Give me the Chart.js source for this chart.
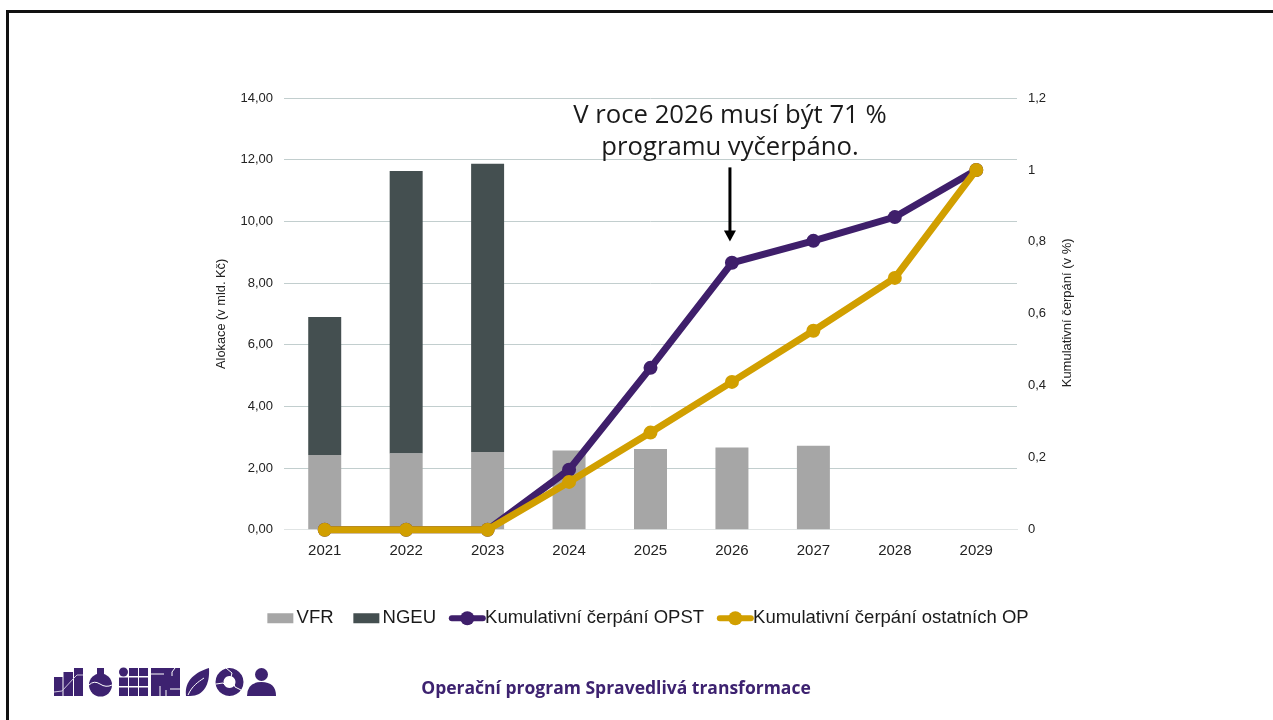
<!DOCTYPE html>
<html lang="cs">
<head>
<meta charset="utf-8">
<script src="https://cdn.jsdelivr.net/npm/chart.js@4"></script>
<style>
html,body{margin:0;padding:0;background:#fff;overflow:hidden}
#wrap{position:relative;width:1273px;height:720px;overflow:hidden}
#frame{position:absolute;left:6px;top:10px;width:1300px;height:800px;border:3px solid #111;box-sizing:border-box}
canvas{position:absolute;left:0;top:0}
#note{position:absolute;left:530px;top:98px;width:400px;text-align:center;font:25.7px/32px "Open Sans",sans-serif;color:#1a1a1a;white-space:nowrap}
#foot{position:absolute;left:366px;top:675px;width:500px;text-align:center;font:bold 17.5px/24px "Open Sans",sans-serif;color:#3d2270;white-space:nowrap}
#icons{position:absolute;left:0;top:0}
</style>
</head>
<body>
<div id="wrap">
<div id="frame"></div>
<canvas id="c" width="1273" height="720"></canvas>
<div id="note">V roce 2026 musí být 71 %<br>programu vyčerpáno.</div>
<div id="foot">Operační program Spravedlivá transformace</div>
<svg id="icons" width="1273" height="720" fill="#3d2270">
  <rect x="54" y="677" width="8.500" height="19"/><rect x="63.500" y="672" width="9.500" height="24"/><rect x="74" y="668" width="9" height="28"/>
  <polyline points="54,692 62,691 74,678 77,675 83,675" fill="none" stroke="#cfc6de" stroke-width="1"/>
  <circle cx="100.500" cy="685" r="11.500"/><rect x="97" y="668" width="7" height="11"/>
  <path d="M89,685 q5,-5 11,-1 t12,1" fill="none" stroke="#fff" stroke-width="1"/>
  <circle cx="123.500" cy="672" r="4.500"/>
  <rect x="129" y="668" width="9" height="8"/><rect x="139" y="668" width="9" height="8"/>
  <rect x="119" y="677.500" width="9" height="8.500"/><rect x="129" y="677.500" width="9" height="8.500"/><rect x="139" y="677.500" width="9" height="8.500"/>
  <rect x="119" y="687.500" width="9" height="8.500"/><rect x="129" y="687.500" width="9" height="8.500"/><rect x="139" y="687.500" width="9" height="8.500"/>
  <rect x="151" y="668" width="29" height="28"/>
  <path d="M151,674 H164 M175,668 L172,672 V676 M180,689 H170 M160,696 V686 M166,696 V690" fill="none" stroke="#fff" stroke-width="1"/>
  <path d="M186,696 C184,680 196,672 209,668 C210,684 204,696 190,696 Z"/>
  <path d="M188,695 C192,686 198,682 204,678" fill="none" stroke="#fff" stroke-width="1"/>
  <path fill-rule="evenodd" d="M229.500,668 a14,14 0 1,0 0.010,0 Z M229.500,676 a6,6 0 1,1 -0.010,0 Z"/>
  <path d="M226,668 l6,5 l-1,4 M216,684 l7,-1 l2,2 M241,690 l-6,-3 l-1,-3" fill="none" stroke="#fff" stroke-width="1"/>
  <circle cx="261.500" cy="674.500" r="6.500"/>
  <path d="M247,696 q0,-14 14.500,-14 q14.500,0 14.500,14 Z"/>
</svg>
</div>
<script>
const categories = ['2021','2022','2023','2024','2025','2026','2027','2028','2029'];
const vfr  = [2.42,2.47,2.52,2.57,2.62,2.67,2.72,null,null];
const ngeu = [4.48,9.16,9.35,null,null,null,null,null,null];
const opst = [0,0,0,0.167,0.45,0.742,0.803,0.869,1];
const otherOp = [0,0,0,0.133,0.27,0.411,0.553,0.70,1];
const leftTicks = [0,2,4,6,8,10,12,14];
const rightAxisTitle = 'Kumulativní čerpání (v %)';
const arrowCategory = '2026';
const arrowFromTo = [11.75, 9.35];

const PURPLE='#3f1f6b', GOLD='#d19f00';
const FF='"Liberation Sans",Arial,sans-serif';

const legendSymbols = {
  id:'legendSymbols',
  afterDraw(chart){
    const lg=chart.legend, ctx=chart.ctx;
    lg.legendHitBoxes.forEach((b,i)=>{
      const ds=chart.data.datasets[i];
      const cy=b.top+b.height/2+0.5;
      ctx.save();
      if(ds.type==='bar'){
        ctx.fillStyle=ds.backgroundColor;
        ctx.fillRect(b.left,cy-5,26,10);
      }else{
        const x0=b.left-4,x1=b.left+27;
        ctx.strokeStyle=ds.borderColor;ctx.lineWidth=6;ctx.lineCap='round';
        ctx.beginPath();ctx.moveTo(x0,cy);ctx.lineTo(x1,cy);ctx.stroke();
        ctx.fillStyle=ds.borderColor;
        ctx.beginPath();ctx.arc((x0+x1)/2,cy,7,0,Math.PI*2);ctx.fill();
      }
      ctx.restore();
    });
  }
};
const arrow = {
  id:'arrow',
  afterDatasetsDraw(chart){
    const x=chart.scales.x.getPixelForValue(categories.indexOf(arrowCategory))-2;
    const y=chart.scales.y;
    const y0=y.getPixelForValue(arrowFromTo[0]), y1=y.getPixelForValue(arrowFromTo[1]);
    const c=chart.ctx;
    c.save();c.strokeStyle='#000';c.fillStyle='#000';c.lineWidth=3;
    c.beginPath();c.moveTo(x,y0);c.lineTo(x,y1-8);c.stroke();
    c.beginPath();c.moveTo(x-6,y1-11);c.lineTo(x+6,y1-11);c.lineTo(x,y1);c.closePath();c.fill();
    c.restore();
  }
};
const rightTitle = {
  id:'rightTitle',
  afterDraw(chart){
    const s=chart.scales.y1, c=chart.ctx;
    c.save();
    c.translate(s.right-17,(s.top+s.bottom)/2-1);
    c.rotate(-Math.PI/2);
    c.font='13px '+FF;c.fillStyle='#222';c.textAlign='center';c.textBaseline='middle';
    c.fillText(rightAxisTitle,0,0);
    c.restore();
  }
};

new Chart(document.getElementById('c'),{
  type:'bar',
  data:{labels:categories,datasets:[
    {type:'bar',label:'VFR',data:vfr,backgroundColor:'#a6a6a6',yAxisID:'y',stack:'s',order:3,barPercentage:0.405,categoryPercentage:1},
    {type:'bar',label:'NGEU',data:ngeu,backgroundColor:'#444f50',yAxisID:'y',stack:'s',order:4,barPercentage:0.405,categoryPercentage:1},
    {type:'line',label:'Kumulativní čerpání OPST',data:opst,borderColor:PURPLE,backgroundColor:PURPLE,borderWidth:7,pointRadius:7,pointBackgroundColor:PURPLE,pointBorderWidth:0,tension:0,yAxisID:'y1',order:2,clip:false},
    {type:'line',label:'Kumulativní čerpání ostatních OP',data:otherOp,borderColor:GOLD,backgroundColor:GOLD,borderWidth:7,pointRadius:7,pointBackgroundColor:GOLD,pointBorderWidth:0,tension:0,yAxisID:'y1',order:1,clip:false}
  ]},
  options:{
    responsive:false,animation:false,
    layout:{padding:{left:212,right:189,top:98,bottom:83}},
    plugins:{
      tooltip:{enabled:false},
      legend:{
        position:'bottom',
        labels:{
          font:{family:FF,size:18.5},color:'#1a1a1a',boxWidth:20,boxHeight:10,padding:19.75,
          generateLabels(chart){
            return chart.data.datasets.map((d,i)=>({text:d.label,fillStyle:'rgba(0,0,0,0)',strokeStyle:'rgba(0,0,0,0)',lineWidth:0,datasetIndex:i,fontColor:'#1a1a1a'}));
          }
        }
      }
    },
    scales:{
      x:{
        stacked:true,
        grid:{display:false,drawTicks:false},
        border:{display:true,color:'#e0e4e4'},
        ticks:{font:{family:FF,size:15},color:'#222',padding:12,maxRotation:0},
        afterFit(s){s.height=59;}
      },
      y:{
        stacked:true,position:'left',min:0,max:14,
        afterBuildTicks(s){s.ticks=leftTicks.map(v=>({value:v}));},
        grid:{color:c=>c.tick.value===0?'#e0e4e4':'#c2cece',drawTicks:false,lineWidth:1},
        border:{display:false},
        ticks:{font:{family:FF,size:13},color:'#222',padding:11,callback:v=>v.toFixed(2).replace('.',',')},
        title:{display:true,text:'Alokace (v mld. Kč)',font:{family:FF,size:12.8},color:'#222',padding:{top:2,bottom:0}},
        afterFit(s){s.width=72;}
      },
      y1:{
        position:'right',min:0,max:1.2,
        grid:{display:false,drawTicks:false},
        border:{display:false},
        ticks:{stepSize:0.2,font:{family:FF,size:13},color:'#222',padding:11,callback:v=>String(+v.toFixed(1)).replace('.',',')},
        afterFit(s){s.width=67;}
      }
    }
  },
  plugins:[legendSymbols,arrow,rightTitle]
});
</script>
</body>
</html>
